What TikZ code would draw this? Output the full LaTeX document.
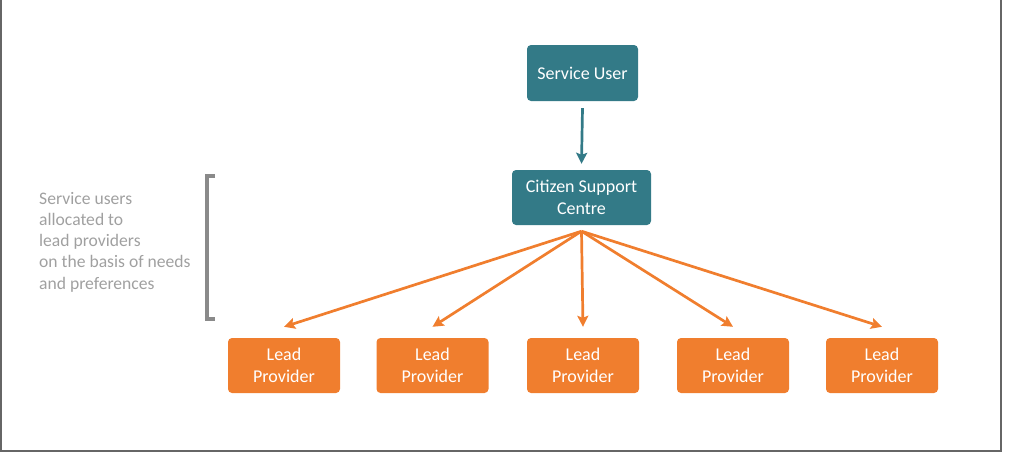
\documentclass[tikz,border=0pt]{standalone}
\usepackage{fontspec}
\setmainfont{Carlito}
\usetikzlibrary{arrows.meta}
\definecolor{teal1}{HTML}{337A87}
\definecolor{orange1}{HTML}{F07E2E}
\definecolor{frame1}{HTML}{666666}
\definecolor{brk}{HTML}{8A8A8A}
\definecolor{sidetext}{HTML}{A0A0A0}
\tikzset{
  tealbox/.style={fill=teal1, rounded corners=4pt, text=white, font=\fontsize{18}{22}\selectfont, align=center, inner sep=0pt},
  leadbox/.style={fill=orange1, rounded corners=4pt, text=white, font=\fontsize{18}{22}\selectfont, align=center, inner sep=0pt, minimum width=112pt, minimum height=55pt},
  tealarrow/.style={draw=teal1, line width=2.7pt, -{Stealth[length=11pt,width=11pt,inset=2pt]}},
  orangearrow/.style={draw=orange1, line width=2.7pt, -{Stealth[length=11pt,width=11pt,inset=2pt]}},
}
\begin{document}
\begin{tikzpicture}[x=1pt,y=-1pt]
\useasboundingbox (0,0) rectangle (1015,456);
\draw[frame1, line width=2pt] (1,0) -- (1,451) -- (1001,451) -- (1001,0);
\node[tealbox, minimum width=111pt, minimum height=56pt] (su) at (582.5,73) {Service User};
\node[tealbox, minimum width=139pt, minimum height=55pt] (csc) at (581.5,197.5) {Citizen Support\\Centre};
\node[leadbox] (l1) at (284,365.5) {Lead\\Provider};
\node[leadbox] (l2) at (432.5,365.5) {Lead\\Provider};
\node[leadbox] (l3) at (583,365.5) {Lead\\Provider};
\node[leadbox] (l4) at (733,365.5) {Lead\\Provider};
\node[leadbox] (l5) at (882,365.5) {Lead\\Provider};
\draw[tealarrow] ([yshift=-7pt]su.south) -- ([yshift=6pt]csc.north);
\coordinate (src) at ([yshift=-6pt]csc.south);
\foreach \i in {1,...,5} {
  \draw[orangearrow] (src) -- ([yshift=11pt]l\i.north);
}
\node[anchor=west, text=sidetext, font=\fontsize{17.6}{21.3}\selectfont, align=left, inner sep=0pt] (side) at (39,242) {Service users\\allocated to\\lead providers\\on the basis of needs\\and preferences};
\draw[brk, line width=4pt] (215,176) -- (207,176) -- (207,319) -- (215,319);
\end{tikzpicture}
\end{document}
